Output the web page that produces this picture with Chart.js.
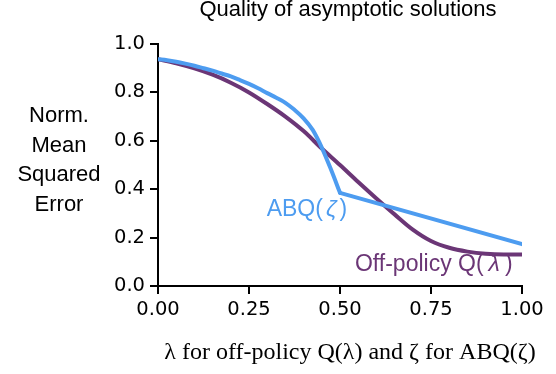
<!DOCTYPE html>
<html>
<head>
<meta charset="utf-8">
<script src="https://cdn.jsdelivr.net/npm/chart.js@4.4.0/dist/chart.umd.min.js"></script>
<style>
  html, body { margin: 0; padding: 0; background: #fff; }
</style>
</head>
<body>
<canvas id="chart" width="556" height="374"></canvas>
<script>
// Off-policy Q(lambda): normalised MSE of the asymptotic solution
const offLambda = [0, 0.05, 0.1, 0.15, 0.2, 0.25, 0.3, 0.35, 0.4, 0.45, 0.5,
                   0.55, 0.6, 0.65, 0.7, 0.75, 0.8, 0.85, 0.9, 0.95, 1];
const offError = [0.937, 0.920, 0.899, 0.873, 0.840, 0.800, 0.752, 0.700, 0.640, 0.568, 0.500,
                  0.430, 0.362, 0.296, 0.233, 0.186, 0.158, 0.142, 0.133, 0.130, 0.130];

// ABQ(zeta): curved part up to zeta = 0.5, then a straight tail
const abqZeta = [0, 0.025, 0.05, 0.075, 0.1, 0.125, 0.15, 0.175, 0.2, 0.225, 0.25,
                 0.275, 0.3, 0.325, 0.35, 0.375, 0.4, 0.425, 0.45, 0.475, 0.5];
const abqError = [0.937, 0.933, 0.927, 0.919, 0.910, 0.900, 0.890, 0.878, 0.866, 0.851, 0.835,
                  0.817, 0.797, 0.778, 0.757, 0.728, 0.693, 0.645, 0.572, 0.482, 0.385];
const abqTailZeta = [0.5, 1];
const abqTailError = [0.385, 0.173];

const xTicks = [0, 0.25, 0.5, 0.75, 1];
const yTicks = [0, 0.2, 0.4, 0.6, 0.8, 1];

const BLUE = '#4d9cf0';
const PURPLE = '#6b3676';

const toPoints = (xs, ys) => xs.map((x, i) => ({ x: x, y: ys[i] }));

// draw a run of text pieces with their own fonts, left to right
function drawRuns(ctx, runs, x, y) {
  let cx = x;
  runs.forEach(r => {
    ctx.font = r.font;
    ctx.fillText(r.text, cx, y);
    cx += ctx.measureText(r.text).width + (r.gap || 0);
  });
}

const textPlugin = {
  id: 'figureText',
  afterDraw(chart) {
    const ctx = chart.ctx;
    const xs = chart.scales.x;
    const ys = chart.scales.y;
    ctx.save();
    ctx.textBaseline = 'alphabetic';

    // title
    ctx.fillStyle = '#000';
    ctx.textAlign = 'center';
    ctx.font = '22px "Liberation Sans"';
    ctx.fillText('Quality of asymptotic solutions', 348, 16);

    // y axis label, four centred lines
    ['Norm.', 'Mean', 'Squared', 'Error'].forEach((line, i) => {
      ctx.fillText(line, 59, 122 + i * 29.5);
    });

    // x axis label
    ctx.font = '24px "Liberation Serif"';
    ctx.fillText('\u03bb for off-policy Q(\u03bb) and \u03b6 for ABQ(\u03b6)', 350, 359);

    // curve labels
    ctx.textAlign = 'left';
    const sans = '23px "Liberation Sans"';
    const ital = 'italic 23px "Liberation Sans"';
    ctx.fillStyle = BLUE;
    drawRuns(ctx, [
      { text: 'ABQ(', font: sans, gap: 3 },
      { text: '\u03b6', font: ital, gap: 3 },
      { text: ')', font: sans }
    ], xs.getPixelForValue(0.2985), ys.getPixelForValue(0.288));
    ctx.fillStyle = PURPLE;
    drawRuns(ctx, [
      { text: 'Off-policy Q(', font: sans, gap: 5 },
      { text: '\u03bb', font: ital, gap: 5 },
      { text: ')', font: sans }
    ], xs.getPixelForValue(0.541), ys.getPixelForValue(0.063));
    ctx.restore();
  }
};

const tickFont = { family: 'DejaVu Sans', size: 19.5 };
const axisGrid = { drawOnChartArea: false, drawTicks: true, tickLength: 8, color: '#000', lineWidth: 2 };
const axisBorder = { display: true, color: '#000', width: 2 };

new Chart(document.getElementById('chart'), {
  type: 'line',
  data: {
    datasets: [
      {
        label: 'ABQ(\u03b6)',
        data: toPoints(abqZeta, abqError),
        borderColor: BLUE,
        borderWidth: 4,
        pointRadius: 0,
        cubicInterpolationMode: 'monotone',
        borderCapStyle: 'round'
      },
      {
        label: 'ABQ(\u03b6) tail',
        data: toPoints(abqTailZeta, abqTailError),
        borderColor: BLUE,
        borderWidth: 4,
        pointRadius: 0,
        tension: 0,
        borderCapStyle: 'round'
      },
      {
        label: 'Off-policy Q(\u03bb)',
        data: toPoints(offLambda, offError),
        borderColor: PURPLE,
        borderWidth: 4,
        pointRadius: 0,
        cubicInterpolationMode: 'monotone'
      }
    ]
  },
  options: {
    responsive: false,
    animation: false,
    layout: { padding: { top: 44, right: 34, bottom: 0, left: 0 } },
    plugins: {
      legend: { display: false },
      tooltip: { enabled: false }
    },
    scales: {
      x: {
        type: 'linear',
        min: 0,
        max: 1,
        afterBuildTicks: s => { s.ticks = xTicks.map(v => ({ value: v })); },
        afterFit: s => { s.height = 88; },
        ticks: {
          callback: v => v.toFixed(2),
          font: tickFont,
          color: '#000',
          padding: 4,
          maxRotation: 0,
          autoSkip: false
        },
        grid: axisGrid,
        border: axisBorder
      },
      y: {
        min: 0,
        max: 1,
        afterBuildTicks: s => { s.ticks = yTicks.map(v => ({ value: v })); },
        afterFit: s => { s.width = 158; },
        ticks: {
          callback: v => v.toFixed(1),
          font: tickFont,
          color: '#000',
          padding: 5
        },
        grid: axisGrid,
        border: axisBorder
      }
    }
  },
  plugins: [textPlugin]
});
</script>
</body>
</html>
